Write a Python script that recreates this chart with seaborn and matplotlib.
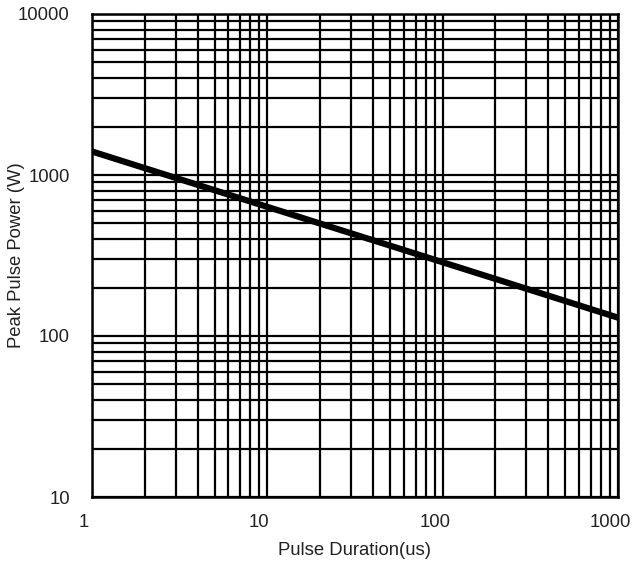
import matplotlib
matplotlib.use("Agg")
import matplotlib.pyplot as plt
import matplotlib.transforms as mtransforms
import seaborn as sns
import pandas as pd
from matplotlib.ticker import LogLocator, FixedLocator, FixedFormatter, NullFormatter

pulse_duration_us = [1, 1000]
peak_power_w = [1400, 130]
x_ticks = [1, 10, 100, 1000]
x_tick_labels = ["1", "10", "100", "1000"]
y_ticks = [10, 100, 1000, 10000]
y_tick_labels = ["10", "100", "1000", "10000"]

sns.set_theme(style="white")
plt.rcParams['font.family'] = ['Liberation Sans', 'DejaVu Sans']

df = pd.DataFrame({"x": pulse_duration_us, "y": peak_power_w})

fig = plt.figure(figsize=(6.33, 5.66), dpi=100)
ax = fig.add_axes([92/633, 1-497/566, (618-92)/633, (497-14)/566])

ax.set_xscale("log")
ax.set_yscale("log")
ax.set_xlim(1, 1000)
ax.set_ylim(10, 10000)

ax.xaxis.set_major_locator(FixedLocator(x_ticks))
ax.xaxis.set_major_formatter(FixedFormatter(x_tick_labels))
ax.yaxis.set_major_locator(FixedLocator(y_ticks))
ax.yaxis.set_major_formatter(FixedFormatter(y_tick_labels))
ax.xaxis.set_minor_locator(LogLocator(base=10, subs=range(2, 10)))
ax.yaxis.set_minor_locator(LogLocator(base=10, subs=range(2, 10)))
ax.xaxis.set_minor_formatter(NullFormatter())
ax.yaxis.set_minor_formatter(NullFormatter())

ax.grid(True, which="both", color="black", linewidth=1.6)
ax.set_axisbelow(True)

sns.lineplot(data=df, x="x", y="y", ax=ax, color="black", linewidth=4.5, zorder=5)

for s in ax.spines.values():
    s.set_color("black")
    s.set_linewidth(1.8)

fs = 13.3
ax.tick_params(axis="both", which="both", length=0, labelsize=fs, colors="#222222")
ax.tick_params(axis="x", pad=12)
ax.tick_params(axis="y", pad=16)

offset = mtransforms.ScaledTranslation(-8/100, 0, fig.dpi_scale_trans)
for lbl in ax.get_xticklabels():
    lbl.set_transform(lbl.get_transform() + offset)

ax.set_xlabel("Pulse Duration(us)", fontsize=fs, color="#222222", labelpad=8)
ax.set_ylabel("Peak Pulse Power (W)", fontsize=fs, color="#222222", va="center")
ax.yaxis.set_label_coords(-0.1426, 0.5)

fig.savefig("out.png", dpi=100)
